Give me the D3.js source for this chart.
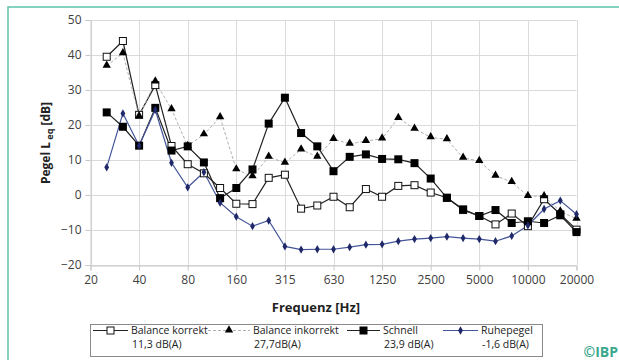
<!DOCTYPE html>
<html>
  <head>
    <meta charset="utf-8">
    <title>Pegel Leq</title>
    <style>
      body { margin: 0; background: #fff; }
      text { font-family: "Open Sans", "DejaVu Sans", sans-serif; }
    </style>
  </head>
  <body>
    <script src="https://d3js.org/d3.v7.min.js"></script>
    <script>
      // Terzbänder (Hz)
      var bands = ["25","31.5","40","50","63","80","100","125","160","200","250","315","400","500",
        "630","800","1000","1250","1600","2000","2500","3150","4000","5000","6300","8000","10000",
        "12500","16000","20000"];
      // Achsenkategorien: 20 Hz steht nur an der Achse
      var axisCategories = ["20"].concat(bands);
      var tickLabels = ["20","40","80","160","315","630","1250","2500","5000","10000","20000"];
      var yTicks = [-20,-10,0,10,20,30,40,50];

      var balanceKorrekt = [39.5, 44.0, 22.9, 31.4, 14.0, 8.8, 6.2, 2.0, -2.5, -2.6, 4.9, 5.8, -3.9, -3.0,
        -0.5, -3.5, 1.7, -0.5, 2.6, 2.8, 0.7, -0.8, -4.3, -6.0, -8.4, -5.3, -8.9, -1.2, -5.5, -9.9];
      var balanceInkorrekt = [36.9, 40.5, 22.5, 32.4, 24.5, 14.0, 17.3, 22.2, 7.3, 5.3, 10.9, 9.2, 13.0, 10.9,
        16.0, 14.6, 15.4, 16.1, 22.0, 18.9, 16.5, 15.9, 10.6, 9.7, 5.5, 3.7, -0.3, -0.4, -4.7, -6.8];
      var schnell = [23.6, 19.5, 14.1, 24.9, 12.7, 13.9, 9.3, -0.9, 2.0, 7.3, 20.4, 27.8, 17.7, 13.9,
        6.8, 10.9, 11.6, 10.3, 10.2, 9.1, 4.7, -0.8, -4.1, -6.0, -4.3, -8.0, -7.5, -8.0, -5.8, -10.6];
      var ruhepegel = [7.9, 23.3, 14.1, 24.3, 9.2, 2.2, 6.5, -2.2, -6.2, -8.9, -7.3, -14.7, -15.6, -15.5,
        -15.5, -14.9, -14.2, -14.1, -13.2, -12.6, -12.3, -11.9, -12.3, -12.6, -13.2, -11.7, -8.7, -4.0, -1.6, -5.5];

      var seriesNames = ["Balance korrekt", "Balance inkorrekt", "Schnell", "Ruhepegel"];
      var seriesLevels = ["11,3 dB(A)", "27,7dB(A)", "23,9 dB(A)", "-1,6 dB(A)"];

      var width = 619, height = 360;
      var svg = d3.select("body").append("svg")
        .attr("width", width)
        .attr("height", height);

      // Rahmen (türkis)
      svg.append("path")
        .attr("d", "M8,360 L8,7 L619,7")
        .attr("fill", "none")
        .attr("stroke", "#5cc3a8")
        .attr("stroke-width", 1.5);

      var x = d3.scalePoint().domain(axisCategories).range([90.5, 576.5]).padding(0);
      var y = d3.scaleLinear().domain([-20, 50]).range([265, 20]);

      // Gitter
      svg.append("g").selectAll("line.h").data(yTicks).enter().append("line")
        .attr("x1", 90.5).attr("x2", 576.5)
        .attr("y1", function(d){ return Math.round(y(d)) + 0.5; })
        .attr("y2", function(d){ return Math.round(y(d)) + 0.5; })
        .attr("stroke", "#dadada");
      svg.append("g").selectAll("line.v").data(tickLabels).enter().append("line")
        .attr("x1", function(d){ return Math.round(x(d)) + 0.5; })
        .attr("x2", function(d){ return Math.round(x(d)) + 0.5; })
        .attr("y1", 20).attr("y2", 265)
        .attr("stroke", "#dadada");

      // Achsen
      var yAxis = svg.append("g")
        .attr("transform", "translate(90.5,0)")
        .call(d3.axisLeft(y).tickValues(yTicks).tickSize(5).tickPadding(4));
      var xAxis = svg.append("g")
        .attr("transform", "translate(0,265.5)")
        .call(d3.axisBottom(x).tickValues(tickLabels).tickSize(5).tickPadding(5));
      [yAxis, xAxis].forEach(function(a){
        a.select(".domain").attr("stroke", "#c8c8c8");
        a.selectAll(".tick line").attr("stroke", "#c8c8c8");
        a.selectAll(".tick text").attr("fill", "#404040")
          .style("font-size", "12px").style("font-family", "'Open Sans', sans-serif");
      });

      // Achsentitel
      svg.append("text")
        .attr("x", 316).attr("y", 312)
        .attr("text-anchor", "middle")
        .style("font-size", "13px").style("font-weight", "bold").attr("fill", "#222")
        .text("Frequenz [Hz]");
      var yt = svg.append("text")
        .attr("transform", "translate(50,143) rotate(-90)")
        .attr("text-anchor", "middle")
        .style("font-size", "12px").style("font-weight", "bold").attr("fill", "#222");
      yt.append("tspan").text("Pegel L");
      yt.append("tspan").attr("dy", 3).style("font-size", "9px").text(" eq");
      yt.append("tspan").attr("dy", -3).text(" [dB]");

      // Linien
      function lineFor(vals) {
        return d3.line()
          .x(function(d, i){ return x(bands[i]); })
          .y(function(d){ return y(d); })(vals);
      }
      var styles = [
        { data: balanceKorrekt, stroke: "#222", dash: null, width: 1.2 },
        { data: balanceInkorrekt, stroke: "#b0b0b0", dash: "3,2", width: 1 },
        { data: schnell, stroke: "#222", dash: null, width: 1.2 },
        { data: ruhepegel, stroke: "#44559a", dash: null, width: 1.2 }
      ];
      styles.forEach(function(s){
        svg.append("path")
          .attr("d", lineFor(s.data))
          .attr("fill", "none")
          .attr("stroke", s.stroke)
          .attr("stroke-width", s.width)
          .attr("stroke-dasharray", s.dash);
      });

      // Marker
      function drawMarker(g, kind, cx, cy) {
        if (kind === 0) {
          g.append("rect").attr("x", cx - 3.5).attr("y", cy - 3.5).attr("width", 7).attr("height", 7)
            .attr("fill", "#fff").attr("stroke", "#111").attr("stroke-width", 1);
        } else if (kind === 1) {
          g.append("path").attr("d", d3.symbol(d3.symbolTriangle, 30)())
            .attr("transform", "translate(" + cx + "," + (cy - 0.5) + ")").attr("fill", "#000");
        } else if (kind === 2) {
          g.append("rect").attr("x", cx - 4).attr("y", cy - 4).attr("width", 8).attr("height", 8)
            .attr("fill", "#000");
        } else {
          g.append("path").attr("d", d3.symbol(d3.symbolDiamond, 20)())
            .attr("transform", "translate(" + cx + "," + cy + ")").attr("fill", "#1f2868");
        }
      }
      styles.forEach(function(s, k){
        var g = svg.append("g");
        s.data.forEach(function(v, i){ drawMarker(g, k, x(bands[i]), y(v)); });
      });

      // Legende
      svg.append("rect")
        .attr("x", 90.5).attr("y", 324.5).attr("width", 452).attr("height", 32)
        .attr("fill", "#fff").attr("stroke", "#8a8a8a");
      var legX = [93, 208, 347, 443];
      var legLen = [35, 42, 33, 35];
      seriesNames.forEach(function(name, k){
        var g = svg.append("g");
        var s = styles[k];
        g.append("line")
          .attr("x1", legX[k]).attr("x2", legX[k] + legLen[k])
          .attr("y1", 330.5).attr("y2", 330.5)
          .attr("stroke", s.stroke).attr("stroke-width", s.width)
          .attr("stroke-dasharray", s.dash);
        drawMarker(g, k, legX[k] + legLen[k] / 2, 330.5);
        g.append("text")
          .attr("x", legX[k] + legLen[k] + 3).attr("y", 334)
          .style("font-size", "10.5px").attr("fill", "#222")
          .text(name);
        g.append("text")
          .attr("x", legX[k] + legLen[k] + 4).attr("y", 347.5)
          .style("font-size", "10.5px").attr("fill", "#222")
          .text(seriesLevels[k]);
      });

      svg.append("text")
        .attr("x", 618).attr("y", 357)
        .attr("text-anchor", "end")
        .style("font-size", "14px").style("font-weight", "bold")
        .attr("fill", "#3aa88c")
        .text("©IBP");
    </script>
  </body>
</html>
